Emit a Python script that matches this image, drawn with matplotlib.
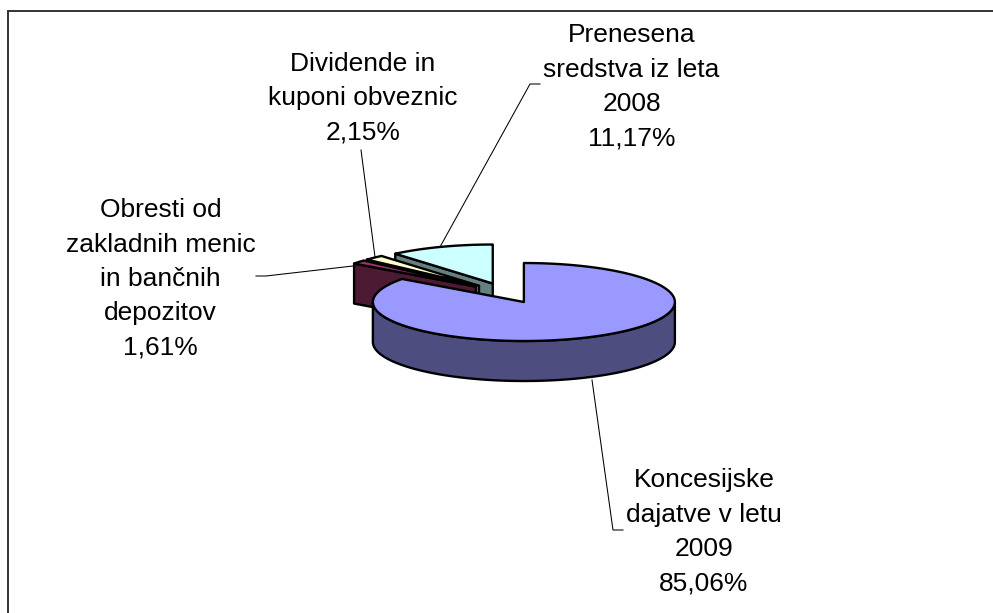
import numpy as np
import matplotlib
matplotlib.use('Agg')
import matplotlib.pyplot as plt
from matplotlib.patches import Polygon

# data
labels = ['Koncesijske\ndajatve v letu\n2009', 'Obresti od\nzakladnih menic\nin bančnih\ndepozitov',
          'Dividende in\nkuponi obveznic', 'Prenesena\nsredstva iz leta\n2008']
shares = [85.06, 1.61, 2.15, 11.17]
share_text = ['85,06%', '1,61%', '2,15%', '11,17%']

top_colors = ['#9999FF', '#993366', '#FFFFCC', '#CCFFFF']
side_colors = ['#4D4D80', '#4D1A33', '#808066', '#668080']

# where the labels sit (center x, center y of the block) and their leader lines, in pixels
label_pos = [(704, 532), (160.5, 279), (363, 98.5), (631.5, 87)]
leaders = [[(623, 530), (613, 530), (592, 380)],
           [(256, 276), (266, 276), (353, 266)],
           [(361, 150), (375, 257)],
           [(540, 84), (530, 84), (440, 247)]]

# pie shape in pixels
cx, cy = 506.2, 293.0
rx, ry = 151.0, 39.0
depth = 40.0
explode = 0.259

fig = plt.figure(figsize=(9.93, 6.13), dpi=100)
ax = fig.add_axes([0, 0, 1, 1])
ax.set_xlim(0, 993)
ax.set_ylim(613, 0)
ax.axis('off')

# frame of the chart, cut off on the right and at the bottom
ax.plot([8, 8, 993], [613, 11, 11], color='#333333', lw=1.4, solid_joinstyle='miter')


def rim(theta, x0, y0):
    t = np.radians(theta)
    return np.column_stack([x0 + rx * np.sin(t), y0 - ry * np.cos(t)])


# angles clockwise from 12 o'clock
edges = np.concatenate([[0], np.cumsum(shares)]) * 360 / sum(shares)


def draw_slice(i):
    a, b = edges[i], edges[i + 1]
    mid = np.radians((a + b) / 2)
    x0 = cx + explode * rx * np.sin(mid)
    y0 = cy - explode * ry * np.cos(mid)
    style = dict(edgecolor='black', lw=1.7, joinstyle='round')

    # cut face at the start of the slice, seen from the front
    p = rim(a, x0, y0)[0]
    if i > 0:
        face = [(x0, y0), p, (p[0], p[1] + depth), (x0, y0 + depth)]
        ax.add_patch(Polygon(face, facecolor=side_colors[i], **style))

    # outer wall, only the front half shows
    lo, hi = max(a, 90), min(b, 270)
    if lo < hi:
        arc = rim(np.linspace(lo, hi, 120), x0, y0)
        low = arc[::-1] + [0, depth]
        ax.add_patch(Polygon(np.vstack([arc, low]), facecolor=side_colors[i], **style))

    top = rim(np.linspace(a, b, 200), x0, y0)
    ax.add_patch(Polygon(np.vstack([[(x0, y0)], top]), facecolor=top_colors[i], **style))


for i in [3, 2, 1, 0]:
    draw_slice(i)

for line in leaders:
    xs, ys = zip(*line)
    ax.plot(xs, ys, color='black', lw=0.75)

for name, pct, pos in zip(labels, share_text, label_pos):
    ax.text(pos[0], pos[1], name + '\n' + pct, ha='center', va='center', ma='center',
            fontsize=19, family='Liberation Sans', linespacing=1.545, color='black')

fig.savefig('out.png', dpi=100)
